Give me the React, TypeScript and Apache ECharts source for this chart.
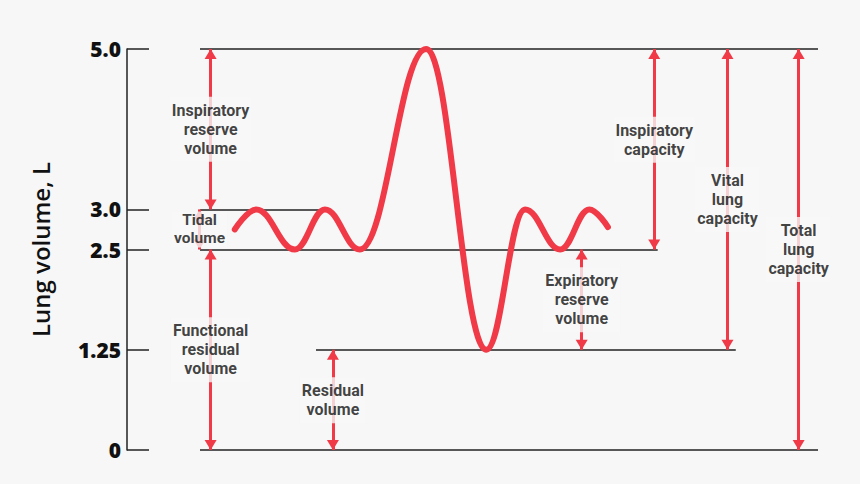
import React, { useEffect, useRef } from "react";
import * as echarts from "echarts";

// Y axis ticks (litres)
const Y_TICKS = [0, 1.25, 2.5, 3.0, 5.0];
const Y_TICK_LABELS = ["0", "1.25", "2.5", "3.0", "5.0"];

// Breathing trace: time (arbitrary units) and lung volume (L)
const TRACE_T = [15.6, 18.7, 24.3, 28.65, 33.7, 43.3, 52.0, 57.6, 62.7, 66.9, 69.6];
const TRACE_V = [2.75, 3.0, 2.5, 3.0, 2.5, 5.0, 1.25, 3.0, 2.5, 3.0, 2.78];

// Reference level lines
const LEVELS = [5.0, 3.0, 2.5, 1.25, 0];
const LEVEL_FROM = [10.56, 10.56, 10.56, 27.35, 10.56];
const LEVEL_TO = [100, 28.65, 76.8, 88.1, 100];

// Volumes and capacities
const VOL_NAMES = [
  "Inspiratory\nreserve\nvolume",
  "Tidal\nvolume",
  "Functional\nresidual\nvolume",
  "Residual\nvolume",
  "Expiratory\nreserve\nvolume",
  "Inspiratory\ncapacity",
  "Vital\nlung\ncapacity",
  "Total\nlung\ncapacity",
];
const VOL_X = [12.1, 10.5, 12.1, 29.8, 65.8, 76.3, 86.9, 97.2];
const VOL_LOW = [3.0, 2.5, 0, 0, 1.25, 2.5, 1.25, 0];
const VOL_HIGH = [5.0, 3.0, 2.5, 1.25, 2.5, 5.0, 5.0, 5.0];
const LABEL_Y = [4.0, 2.75, 1.25, 0.62, 1.875, 3.87, 3.125, 2.5];

const RED = "#f03a48";
const INK = "#111111";
const BG = "#f7f7f7";
const FONT = "'Open Sans', Lato, sans-serif";
const LABEL_FONT = "Roboto, 'Open Sans', sans-serif";

export default function App() {
  const ref = useRef<HTMLDivElement>(null);

  useEffect(() => {
    document.body.style.margin = "0";
    if (!ref.current) return;
    const chart = echarts.init(ref.current, null, { renderer: "svg" });

    const labelBase = {
      show: true,
      position: "inside",
      formatter: "{b}",
      color: INK,
      fontFamily: LABEL_FONT,
      fontWeight: 700,
      fontSize: 16,
      lineHeight: 19,
      align: "center",
      backgroundColor: BG,
      padding: [4, 2],
    };

    const option = {
      animation: false,
      backgroundColor: BG,
      grid: { left: 127, right: 42, top: 49, bottom: 34 },
      xAxis: { type: "value", min: 0, max: 100, show: false },
      yAxis: {
        type: "value",
        min: 0,
        max: 5,
        name: "Lung volume, L",
        nameLocation: "middle",
        nameGap: 75,
        nameTextStyle: { fontSize: 24, fontWeight: 600, color: INK, fontFamily: FONT },
        axisLine: { show: true, lineStyle: { color: "#222", width: 1.5 } },
        axisTick: {
          show: true,
          inside: true,
          length: 22,
          customValues: Y_TICKS,
          lineStyle: { color: "#222", width: 1.5 },
        },
        axisLabel: {
          customValues: Y_TICKS,
          formatter: (v: number) => {
            const i = Y_TICKS.indexOf(v);
            return i >= 0 ? Y_TICK_LABELS[i] : "";
          },
          fontSize: 21,
          fontWeight: 800,
          color: INK,
          fontFamily: FONT,
          margin: 6,
        },
        splitLine: { show: false },
      },
      series: [
        {
          type: "line",
          name: "levels",
          data: [],
          silent: true,
          markLine: {
            silent: true,
            symbol: ["none", "none"],
            label: { show: false },
            lineStyle: { color: "#222", width: 1.5, type: "solid" },
            z: 2,
            data: LEVELS.map((v, i) => [
              { coord: [LEVEL_FROM[i], v] },
              { coord: [LEVEL_TO[i], v] },
            ]),
          },
        },
        {
          type: "line",
          name: "arrows",
          data: [],
          silent: true,
          markLine: {
            silent: true,
            symbol: ["triangle", "triangle"],
            symbolSize: [12, 10],
            symbolOffset: [
              [0, 5],
              [0, 5],
            ],
            label: { show: false },
            lineStyle: { color: RED, width: 3, type: "solid" },
            z: 3,
            data: VOL_NAMES.map((_, i) => [
              { coord: [VOL_X[i], VOL_HIGH[i]] },
              { coord: [VOL_X[i], VOL_LOW[i]] },
            ]),
          },
        },
        {
          type: "line",
          name: "trace",
          data: TRACE_T.map((t, i) => [t, TRACE_V[i]]),
          smooth: 0.4,
          smoothMonotone: "x",
          showSymbol: false,
          silent: true,
          z: 4,
          lineStyle: { color: RED, width: 6, cap: "round" },
        },
        {
          type: "scatter",
          name: "labels",
          silent: true,
          z: 10,
          symbolSize: 1,
          itemStyle: { color: "transparent" },
          data: VOL_NAMES.map((n, i) => ({
            name: n,
            value: [VOL_X[i], LABEL_Y[i]],
            label:
              i === 1
                ? { ...labelBase, padding: [0, 2], fontSize: 15.5, lineHeight: 18 }
                : labelBase,
          })),
          label: labelBase,
        },
      ],
    };

    chart.setOption(option as any);
    return () => chart.dispose();
  }, []);

  return (
    <div
      ref={ref}
      style={{ position: "fixed", left: 0, top: 0, width: 860, height: 484, background: BG }}
    />
  );
}
